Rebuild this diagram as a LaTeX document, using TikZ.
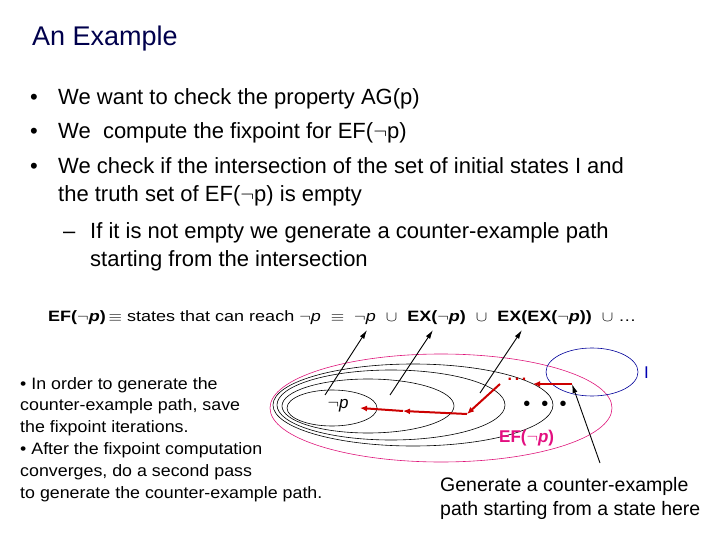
\documentclass[tikz,border=0pt]{standalone}
\usepackage{fontspec}
\setmainfont{Liberation Sans}
\usetikzlibrary{arrows.meta}
\begin{document}
\begin{tikzpicture}[x=1pt,y=-1pt,
  txt/.style={anchor=base west,inner sep=0pt},
  bul/.style={txt,font=\fontsize{22}{26}\selectfont},
  sm/.style={txt,font=\fontsize{16.5}{18}\selectfont,xscale=1.08},
  fm/.style={txt,font=\fontsize{15}{17}\selectfont,xscale=1.2},
  gen/.style={txt,font=\fontsize{19.5}{22}\selectfont},
  redarr/.style={draw=red!80!black,line width=2pt,-{Latex[length=7pt,width=6pt]}},
  blk/.style={draw=black,line width=0.9pt,-{Latex[length=9pt,width=5pt]}}]
\useasboundingbox (0,0) rectangle (720,540);
\node[txt,font=\fontsize{27}{30}\selectfont,text=blue!30!black] (title) at (32,46) {An Example};
\node[bul] (b1) at (30,105) {•};\node[bul] (t1) at (58,105) {We want to check the property AG(p)};
\node[bul] (b2) at (30,139) {•};\node[bul] (t2) at (58,139) {We\ \ compute the fixpoint for EF(\(\neg\)p)};
\node[bul] (b3) at (30,174) {•};\node[bul] (t3) at (58,174) {We check if the intersection of the set of initial states I and};
\node[bul] (t3b) at (58,202) {the truth set of EF(\(\neg\)p) is empty};
\node[bul] (d1) at (63,238) {--};\node[bul] (t4) at (90,238) {If it is not empty we generate a counter-example path};
\node[bul] (t4b) at (90,266) {starting from the intersection};
\node[fm] (f) at (48,321) {\textbf{EF(\(\neg\)\emph{p})}\,\(\equiv\) states that can reach \(\neg\)\emph{p} \ \(\equiv\) \ \(\neg\)\emph{p} \ \(\cup\) \ \textbf{EX(\(\neg\)\emph{p})} \ \(\cup\) \ \textbf{EX(EX(\(\neg\)\emph{p}))} \ \(\cup\) \dots};
\node[sm] (l1) at (20,389) {• In order to generate the};
\node[sm] (l2) at (20,410) {counter-example path, save};
\node[sm] (l3) at (20,432) {the fixpoint iterations.};
\node[sm] (l4) at (20,454) {• After the fixpoint computation};
\node[sm] (l5) at (20,476) {converges, do a second pass};
\node[sm] (l6) at (20,498) {to generate the counter-example path.};
\node[gen] (g1) at (440,491) {Generate a counter-example};
\node[gen] (g2) at (440,515) {path starting from a state here};
% ellipses
\draw[black,line width=0.6pt] (332,408) ellipse [x radius=45,y radius=18];
\draw[black,line width=0.6pt] (368,406) ellipse [x radius=86,y radius=27];
\draw[black,line width=0.6pt] (391,405) ellipse [x radius=114,y radius=35];
\draw[black,line width=0.6pt] (413,405) ellipse [x radius=140,y radius=41];
\draw[magenta!70!purple,line width=0.6pt] (441,408) ellipse [x radius=171,y radius=54];
\draw[blue!60!black,line width=0.6pt] (592,372) ellipse [x radius=46,y radius=24];
\node[txt,font=\fontsize{17}{18}\selectfont,text=blue!70!black] (I) at (644,378) {I};
\node[inner sep=0pt,font=\fontsize{17}{18}\selectfont] (np) at (338,406) {\(\neg\)\emph{p}};
\node[txt,font=\fontsize{17}{18}\selectfont\bfseries,text=magenta!80!purple] (ef) at (499,442) {EF(\(\neg\)\emph{p})};
\node[inner sep=0pt,font=\fontsize{20}{20}\selectfont] (dots) at (545,406) {•\ \ •\ \ •};
\node[inner sep=0pt,font=\fontsize{16}{16}\selectfont\bfseries,text=red!80!black] (rdots) at (517,379) {.\,.\,.};
% red path
\coordinate (s) at (572,384);
\coordinate (a1) at (533,384);
\coordinate (c1) at (500,384);
\coordinate (c2) at (467,414);
\coordinate (c3) at (403,411);
\coordinate (c4) at (360,408);
\draw[redarr] (s) -- (a1);
\draw[redarr] (c1) -- (c2);
\draw[redarr] (c2) -- (c3);
\draw[redarr] (c3) -- (c4);
% black arrows
\coordinate (p1) at (325,395); \coordinate (q1) at (367,330);
\coordinate (p2) at (390,395); \coordinate (q2) at (433,330);
\coordinate (p3) at (480,393); \coordinate (q3) at (522,330);
\coordinate (p4) at (600,463);
\draw[blk] (p1) -- (q1);
\draw[blk] (p2) -- (q2);
\draw[blk] (p3) -- (q3);
\draw[blk] (p4) -- (s);
\end{tikzpicture}
\end{document}
